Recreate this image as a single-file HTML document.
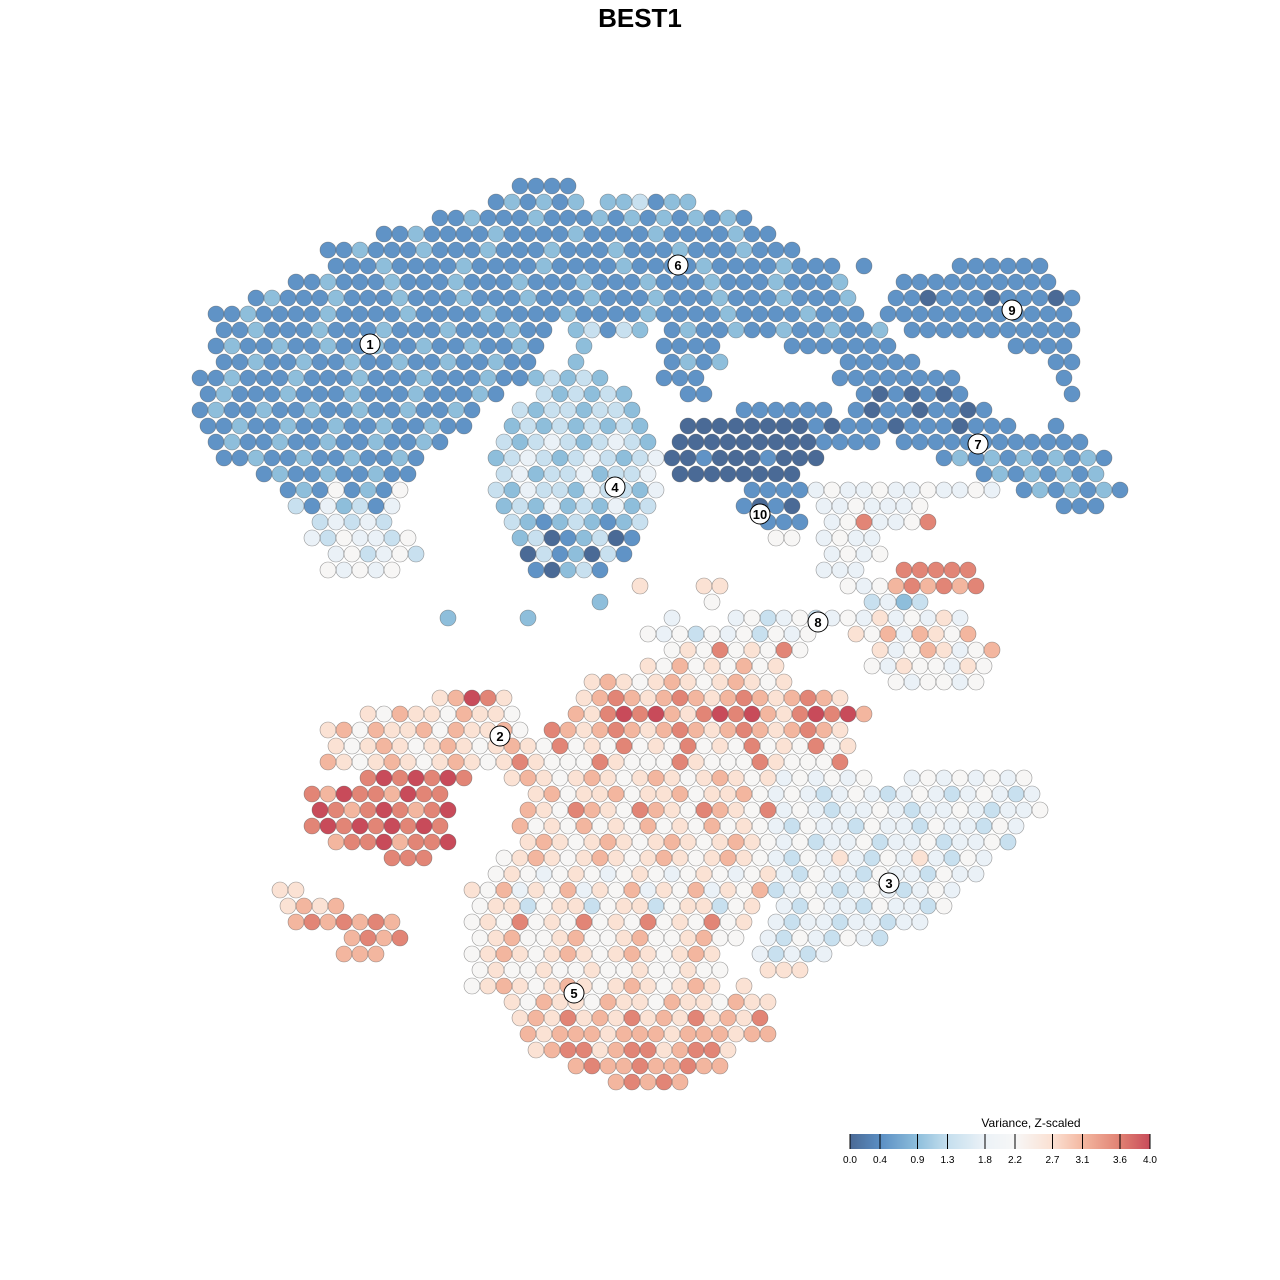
<!DOCTYPE html>
<html><head><meta charset="utf-8"><title>BEST1</title>
<style>
html,body{margin:0;padding:0;background:#fff;}
svg{display:block;font-family:"Liberation Sans",Arial,sans-serif;}
</style></head>
<body>
<svg id="chart" width="1280" height="1280" viewBox="0 0 1280 1280">
<text x="640" y="27" text-anchor="middle" font-size="26" font-weight="bold">BEST1</text>
<g id="points"></g>
<g id="labels"></g>
<g id="legend"></g>
</svg>
<script>
// Grid-binned density map: per row, segments [startCol, endCol, levelPattern]
const rows = [
[[20,23,"1"]],
[[18,23,"12"],[25,30,"2231"]],
[[15,24,"1121"],[25,34,"2121"]],
[[11,35,"11211"]],
[[8,37,"1121"]],
[[8,39,"11121"],[41,41,"1"],[47,52,"1"]],
[[6,40,"1121"],[44,53,"1"]],
[[3,40,"1211"],[43,54,"1101"]],
[[1,41,"11211"],[43,54,"1"]],
[[1,21,"1121"],[23,27,"2313"],[29,42,"121"],[44,54,"11"]],
[[1,21,"121"],[24,24,"2"],[29,32,"1"],[37,43,"1"],[51,54,"1"]],
[[1,20,"112"],[23,23,"2"],[29,32,"12"],[40,44,"1"],[53,54,"1"]],
[[0,20,"1121"],[21,25,"23"],[29,31,"1"],[40,47,"1"],[54,54,"1"]],
[[0,18,"1211"],[21,26,"3232"],[30,31,"1"],[41,47,"10"],[54,54,"1"]],
[[0,17,"121"],[20,27,"323"],[34,39,"1"],[41,49,"101"]],
[[0,16,"112"],[19,27,"2323"],[30,37,"0"],[38,50,"1011"],[53,53,"1"]],
[[1,15,"121"],[19,28,"3234"],[30,38,"00"],[39,42,"1"],[44,55,"11"]],
[[1,13,"112"],[18,28,"2343"],[29,38,"0010"],[46,56,"12"]],
[[4,13,"121"],[19,28,"3423"],[30,37,"0"],[49,56,"12"]],
[[5,12,"1215"],[18,28,"3243"],[34,37,"1"],[38,49,"454"],[51,57,"12"]],
[[6,12,"3142"],[19,28,"2324"],[34,37,"10"],[39,45,"4454"],[54,56,"1"]],
[[7,11,"34"],[19,27,"3212"],[35,37,"1"],[39,45,"4584"]],
[[7,13,"4354"],[20,27,"2301"],[36,37,"5"],[39,42,"454"]],
[[8,13,"453"],[20,26,"0312"],[39,42,"45"]],
[[8,12,"54"],[21,25,"1023"],[39,41,"4"],[44,48,"8"]],
[[27,27,"6"],[31,32,"6"],[40,42,"54"],[43,48,"7878"]],
[[25,25,"2"],[32,32,"5"],[42,45,"342"]],
[[15,15,"2"],[20,20,"2"],[29,29,"4"],[33,40,"453"],[41,47,"4645"]],
[[28,38,"5453"],[41,48,"65747"]],
[[29,37,"5658"],[42,49,"6457"]],
[[28,36,"6575"],[42,49,"5465"]],
[[24,36,"6765"],[43,48,"545"]],
[[15,19,"6798"],[24,40,"6787"]],
[[10,19,"6576"],[23,41,"768989"]],
[[8,20,"67576"],[22,40,"8767"]],
[[8,20,"6567"],[21,40,"5856"]],
[[8,19,"7656"],[20,40,"86555"]],
[[10,16,"89"],[19,35,"6765"],[36,41,"45"],[44,51,"45"]],
[[7,15,"8798"],[21,35,"6756"],[36,52,"4543"]],
[[7,15,"9878"],[20,35,"7658"],[36,52,"45434"]],
[[7,15,"8989"],[20,35,"7565"],[36,51,"4354"]],
[[8,15,"7889"],[20,35,"6765"],[36,50,"4534"]],
[[12,14,"8"],[19,35,"5676"],[36,49,"43546"]],
[[18,35,"5654"],[36,48,"4354"]],
[[5,6,"6"],[17,35,"6574"],[36,47,"3454"]],
[[5,8,"67"],[17,34,"5663"],[36,46,"4354"]],
[[6,12,"7878"],[17,34,"5658"],[36,45,"434"]],
[[9,12,"78"],[17,33,"5675"],[35,42,"435"]],
[[9,11,"7"],[17,32,"5676"],[35,39,"43"]],
[[17,32,"565"],[35,37,"6"]],
[[17,32,"5676"],[34,34,"6"]],
[[19,35,"6576"]],
[[20,35,"6768"]],
[[20,35,"7677"]],
[[21,33,"6788"]],
[[23,32,"787"]],
[[26,30,"78"]]
];
const clusterIds = ["1","6","9","7","4","10","8","2","3","5"];
const clusterX = [370,678,1012,978,615,760,818,500,889,574];
const clusterY = [344,265,310,444,487,514,622,736,883,993];
const legendTicks = ["0.0","0.4","0.9","1.3","1.8","2.2","2.7","3.1","3.6","4.0"];
const legendVals = [0,0.4,0.9,1.3,1.8,2.2,2.7,3.1,3.6,4.0];

const NS="http://www.w3.org/2000/svg";
const stopV=[0,0.4,0.9,1.3,1.8,2.2,2.7,3.1,3.6,4.0];
const stopC=[[74,106,150],[91,143,196],[143,191,220],[197,223,238],[236,242,247],[247,247,247],[251,224,210],[243,183,160],[224,128,114],[200,75,90]];
function color(v){
  for(let i=0;i<stopV.length-1;i++){
    if(v<=stopV[i+1]){const t=(v-stopV[i])/(stopV[i+1]-stopV[i]);
      const c=stopC[i].map((a,k)=>Math.round(a+(stopC[i+1][k]-a)*t));return `rgb(${c})`;}
  }
  return `rgb(${stopC[stopC.length-1]})`;
}
function xScale(c,r){return 200+16*c+(r%2?8:0);}
function yScale(r){return 186+16*r;}
function levelToValue(l){return l*4/9;}

const pts=[];
rows.forEach((segs,r)=>{segs.forEach(s=>{
  const [a,b,pat]=s;
  for(let c=a;c<=b;c++){pts.push({c,r,v:levelToValue(+pat[(c-a)%pat.length])});}
});});
pts.sort((p,q)=>p.v-q.v);
const gp=document.getElementById('points');
pts.forEach(p=>{
  const e=document.createElementNS(NS,'circle');
  e.setAttribute('cx',xScale(p.c,p.r));
  e.setAttribute('cy',yScale(p.r));
  e.setAttribute('r',8);
  e.setAttribute('fill',color(p.v));
  e.setAttribute('stroke','#555');
  e.setAttribute('stroke-width','0.6');
  e.setAttribute('stroke-opacity','0.6');
  
  
  gp.appendChild(e);
});

const gl=document.getElementById('labels');
clusterIds.forEach((id,i)=>{
  const g=document.createElementNS(NS,'g');
  
  
  const c=document.createElementNS(NS,'circle');
  c.setAttribute('cx',clusterX[i]);c.setAttribute('cy',clusterY[i]);c.setAttribute('r',10);
  c.setAttribute('fill','#fff');c.setAttribute('stroke','#000');c.setAttribute('stroke-width','1');
  const t=document.createElementNS(NS,'text');
  t.setAttribute('x',clusterX[i]);t.setAttribute('y',clusterY[i]+5);
  t.setAttribute('text-anchor','middle');t.setAttribute('font-size','13');t.setAttribute('font-weight','bold');
  t.textContent=id;
  g.appendChild(c);g.appendChild(t);gl.appendChild(g);
});

// legend
const lg=document.getElementById('legend');
const lx0=850,lx1=1150,ly=1134,lh=15;
function lxScale(v){return lx0+(lx1-lx0)*v/4;}
const title=document.createElementNS(NS,'text');
title.setAttribute('x',1031);title.setAttribute('y',1127);title.setAttribute('text-anchor','middle');title.setAttribute('font-size','12');
title.textContent='Variance, Z-scaled';


lg.appendChild(title);
for(let i=0;i<300;i++){
  const r=document.createElementNS(NS,'rect');
  r.setAttribute('x',lx0+i);r.setAttribute('y',ly);r.setAttribute('width',1.2);r.setAttribute('height',lh);
  r.setAttribute('fill',color(i/300*4));
  
  
  lg.appendChild(r);
}
legendVals.forEach((v,i)=>{
  const x=lxScale(v);
  const l=document.createElementNS(NS,'line');
  l.setAttribute('x1',x);l.setAttribute('x2',x);l.setAttribute('y1',ly);l.setAttribute('y2',ly+lh);
  l.setAttribute('stroke','#000');l.setAttribute('stroke-width','1');
  
  
  lg.appendChild(l);
  const t=document.createElementNS(NS,'text');
  t.setAttribute('x',x);t.setAttribute('y',1163);t.setAttribute('text-anchor','middle');t.setAttribute('font-size','10');
  t.textContent=legendTicks[i];
  
  
  lg.appendChild(t);
});
</script>
</body></html>
